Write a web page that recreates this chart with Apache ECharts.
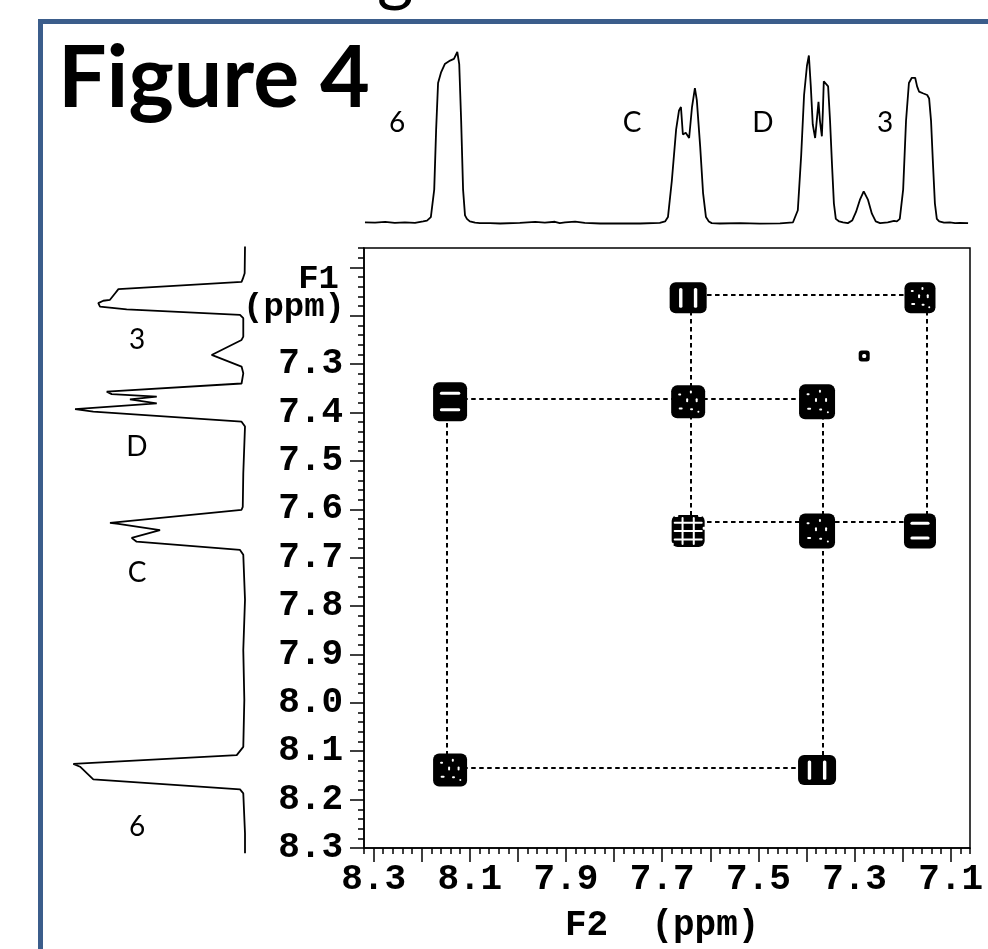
<!DOCTYPE html>
<html><head><meta charset="utf-8">
<script src="https://cdn.jsdelivr.net/npm/echarts@6/dist/echarts.min.js"></script>
<style>html,body{margin:0;padding:0;background:#fff}#c{width:988px;height:949px}</style>
</head><body><div id="c"></div>
<script>
// ---------------- data ----------------
const peakNames = ['6', 'C', 'D', '3'];
const shiftF2 = [8.141, 7.646, 7.378, 7.164];   // cross-peak columns (ppm)
const shiftF1 = [8.139, 7.645, 7.378, 7.163];   // cross-peak rows (ppm)
const impurityF2 = 7.280;
const impurityF1 = 7.283;
// cross peaks [F2 name, F1 name]
const crossPeaks = [['C','3'],['3','3'],['6','D'],['C','D'],['D','D'],['C','C'],['D','C'],['3','C'],['6','6'],['D','6']];
// dotted assignment lines (ppm)
const lineF2 = [8.147, 7.640, 7.366, 7.150];
const lineF1 = [8.135, 7.626, 7.372, 7.157];
// [orientation, fixed name, from name, to name]
const connectors = [['h','3','C','3'],['v','C','3','C'],['v','3','3','C'],['h','D','6','D'],['h','C','C','3'],['v','D','D','6'],['h','6','6','D'],['v','6','D','6']];

// 1D projection along F2 (top)
const topPpm = [8.318,8.297,8.276,8.256,8.235,8.214,8.197,8.189,8.181,8.174,8.170,8.166,8.160,8.152,8.141,8.133,8.129,8.126,8.122,8.118,8.114,8.110,8.106,8.100,8.089,8.079,8.058,8.037,7.996,7.964,7.944,7.923,7.913,7.902,7.881,7.861,7.829,7.788,7.746,7.705,7.694,7.688,7.680,7.671,7.665,7.661,7.657,7.651,7.644,7.638,7.632,7.628,7.621,7.615,7.609,7.603,7.597,7.580,7.538,7.497,7.455,7.428,7.424,7.418,7.411,7.405,7.399,7.395,7.391,7.387,7.382,7.378,7.375,7.372,7.368,7.366,7.364,7.360,7.355,7.351,7.347,7.343,7.339,7.332,7.324,7.314,7.305,7.297,7.289,7.281,7.272,7.264,7.256,7.247,7.231,7.218,7.212,7.206,7.199,7.193,7.187,7.181,7.174,7.170,7.166,7.158,7.149,7.145,7.141,7.137,7.133,7.129,7.124,7.120,7.114,7.102,7.091,7.081,7.064];
const topInt = [1.0,0.8,1.2,0.6,1.0,0.7,1.5,2,4,20,55,82,88,93,95,96,97,100,93,60,20,5,3,1.5,0.8,0.5,0.5,0.3,0.6,1.2,0.8,1.3,0.5,0.9,1.4,0.6,0.3,0.4,0.3,0.6,1.5,4,25,55,66,68,52,53,50,68,79,72,45,18,4,1.5,0.5,0.3,0.5,0.2,0.4,1.0,2,8,40,75,92,98,80,58,50,62,71,60,51,65,83,82,80,60,35,12,3,1.5,1.0,0.5,2,7,14,19,14,6,1.5,0.5,1.0,1.8,1.5,3,20,60,82,85,85,80,77,76,75,73,60,35,12,3,1.5,2.5,0.8,1.0,0.5,0.7,0.5];

// 1D projection along F1 (left)
const leftPpm = [7.057,7.112,7.124,7.130,7.145,7.154,7.167,7.169,7.174,7.181,7.187,7.198,7.205,7.243,7.250,7.281,7.305,7.319,7.340,7.357,7.362,7.367,7.373,7.381,7.393,7.398,7.419,7.429,7.526,7.595,7.601,7.628,7.630,7.643,7.659,7.667,7.684,7.694,7.787,7.891,7.994,8.091,8.108,8.126,8.132,8.158,8.179,8.187,8.270,8.311];
const leftInt = [0,0.2,1.3,2,73.6,75.6,78.5,82.4,85.3,84.3,68.8,2.9,1,1,2,19.4,2,1,2,80.4,77.5,51.3,66.9,51.3,98.8,88.2,2,0,1,1.3,2,78.5,73.6,49.4,65.9,63,2.9,1,0,1,0.4,1,4.8,99.8,95.9,88.2,2.9,1,0,0];

const xTickLabels = ['8.3','8.1','7.9','7.7','7.5','7.3','7.1'];
const yTickLabels = ['7.3','7.4','7.5','7.6','7.7','7.8','7.9','8.0','8.1','8.2','8.3'];

// ---------------- styles ----------------
const peakStyle = {
  'C/3': {w:37,h:31,p:'v2'}, '3/3': {w:31,h:31,p:'dots'}, '6/D': {w:34,h:39,p:'h2'},
  'C/D': {w:34,h:33,p:'dots'}, 'D/D': {w:36,h:35,p:'dots'}, 'C/C': {w:33,h:32,p:'grid'},
  'D/C': {w:36,h:35,p:'dots'}, '3/C': {w:32,h:35,p:'h2'}, '6/6': {w:34,h:33,p:'dots'},
  'D/6': {w:38,h:30,p:'v2'}, 'imp': {w:11,h:11,p:'ring',r:3}
};
const idx = n => peakNames.indexOf(n);
const peakKeys = crossPeaks.map(p => p[0] + '/' + p[1]).concat(['imp']);
const peakData = crossPeaks.map(p => [shiftF2[idx(p[0])], shiftF1[idx(p[1])]]).concat([[impurityF2, impurityF1]]);
const lineData = connectors.map(c => c[0] === 'h'
  ? {coords: [[lineF2[idx(c[2])], lineF1[idx(c[1])]], [lineF2[idx(c[3])], lineF1[idx(c[1])]]]}
  : {coords: [[lineF2[idx(c[1])], lineF1[idx(c[2])]], [lineF2[idx(c[1])], lineF1[idx(c[3])]]]});

function renderPeak(params, api) {
  const st = peakStyle[peakKeys[params.dataIndex]];
  const c = api.coord([api.value(0), api.value(1)]);
  const w = st.w, h = st.h;
  const ch = [{type:'rect', shape:{x:c[0]-w/2, y:c[1]-h/2, width:w, height:h, r:st.r||6}, style:{fill:'#000'}}];
  const white = (x, y, ww, hh, r) => ch.push({type:'rect', shape:{x:x, y:y, width:ww, height:hh, r:r||1}, style:{fill:'#fff'}});
  if (st.p === 'v2') {
    white(c[0]-w*0.2-1.7, c[1]-h*0.32, 3.4, h*0.64, 1.5);
    white(c[0]+w*0.2-1.7, c[1]-h*0.32, 3.4, h*0.64, 1.5);
  } else if (st.p === 'h2') {
    white(c[0]-w*0.3, c[1]-h*0.22-1.5, w*0.6, 3, 1.5);
    white(c[0]-w*0.3, c[1]+h*0.2-1.5, w*0.6, 3, 1.5);
  } else if (st.p === 'dots') {
    [[-0.25,-0.22,3,2],[0.08,-0.3,2,3],[0.25,-0.05,2,4],[-0.22,0.2,4,2],[0.1,0.22,3,2],[-0.03,-0.05,2,4],[0.3,0.3,2,2]]
      .forEach(d => white(c[0]+d[0]*w-d[2]/2, c[1]+d[1]*h-d[3]/2, d[2], d[3], 1));
  } else if (st.p === 'grid') {
    [-0.17, 0.17].forEach(f => white(c[0]+f*w-1, c[1]-h/2+2, 2, h-4, 1));
    [-0.26, 0, 0.26].forEach(f => white(c[0]-w/2+2, c[1]+f*h-1, w-4, 2, 1));
    [[-0.36,-0.5],[0.36,-0.5],[-0.5,0.4],[0.5,-0.1]].forEach(d => white(c[0]+d[0]*w-2, c[1]+d[1]*h-1, 4, 3, 1));
  } else if (st.p === 'ring') {
    white(c[0]-2, c[1]-2, 4, 4, 1.5);
  }
  return {type:'group', children: ch};
}

// ---------------- chart ----------------
const BLACK = '#000';
const monoBold = {fontFamily:'Liberation Mono', fontWeight:'bold', fontSize:36, color:BLACK};
const G = {left:364, top:248, width:606, height:600};
const sx = G.width / (8.32 - 7.06), sy = G.height / (8.30 - 7.06);
const G1 = {left: G.left + (8.32-8.3)*sx, top: G.top + (7.1-7.06)*sy, width: 1.2*sx, height: 1.2*sy};

const chart = echarts.init(document.getElementById('c'), null, {renderer:'canvas'});
chart.setOption({
  animation: false,
  backgroundColor: '#fff',
  grid: [
    {left:G.left, top:G.top, width:G.width, height:G.height, show:true, borderColor:BLACK, borderWidth:1.5, backgroundColor:'transparent', outerBoundsMode:'none'},
    {left:G1.left, top:G1.top, width:G1.width, height:G1.height, show:false, outerBoundsMode:'none'},
    {left:G.left, top:52, width:G.width, height:172, show:false, outerBoundsMode:'none'},
    {left:73, top:G.top, width:172, height:G.height, show:false, outerBoundsMode:'none'}
  ],
  xAxis: [
    {gridIndex:0, type:'value', inverse:true, min:7.06, max:8.32, interval:0.02,
     axisLine:{show:true, onZero:false, lineStyle:{color:BLACK, width:1.5}},
     axisTick:{show:true, length:6, lineStyle:{color:BLACK, width:1.5}},
     axisLabel:{show:false}, splitLine:{show:false}},
    {gridIndex:1, type:'value', inverse:true, min:7.1, max:8.3, interval:0.1,
     axisLine:{show:false, onZero:false},
     axisTick:{show:true, length:14, lineStyle:{color:BLACK, width:1.5}},
     axisLabel:Object.assign({margin:14, formatter: v => { const s = v.toFixed(1); return xTickLabels.includes(s) ? s : ''; }}, monoBold),
     splitLine:{show:false},
     name:'F2  (ppm)', nameLocation:'middle', nameGap:60, nameTextStyle:monoBold},
    {gridIndex:2, type:'value', inverse:true, min:7.06, max:8.32, show:false},
    {gridIndex:3, type:'value', inverse:true, min:0, max:100, show:false}
  ],
  yAxis: [
    {gridIndex:0, type:'value', inverse:true, min:7.06, max:8.30, interval:0.02,
     axisLine:{show:true, onZero:false, lineStyle:{color:BLACK, width:1.5}},
     axisTick:{show:true, length:6, lineStyle:{color:BLACK, width:1.5}},
     axisLabel:{show:false}, splitLine:{show:false}},
    {gridIndex:1, type:'value', inverse:true, min:7.1, max:8.3, interval:0.1, offset: G1.left - G.left,
     axisLine:{show:false, onZero:false},
     axisTick:{show:true, length:14, lineStyle:{color:BLACK, width:1.5}},
     axisLabel:Object.assign({margin:21, formatter: v => { const s = v.toFixed(1); return yTickLabels.includes(s) ? s : ''; }}, monoBold),
     splitLine:{show:false}},
    {gridIndex:2, type:'value', min:0, max:100, show:false},
    {gridIndex:3, type:'value', inverse:true, min:7.06, max:8.30, show:false}
  ],
  series: [
    {type:'lines', coordinateSystem:'cartesian2d', xAxisIndex:0, yAxisIndex:0, z:2, silent:true,
     lineStyle:{color:BLACK, width:2, type:[4.5,3.5], opacity:1, curveness:0}, data: lineData},
    {type:'custom', xAxisIndex:0, yAxisIndex:0, z:3, silent:true, renderItem: renderPeak, data: peakData},
    {type:'line', xAxisIndex:2, yAxisIndex:2, showSymbol:false, clip:false, silent:true,
     lineStyle:{color:BLACK, width:1.8}, data: topPpm.map((p, i) => [p, topInt[i]])},
    {type:'line', xAxisIndex:3, yAxisIndex:3, showSymbol:false, clip:false, silent:true,
     lineStyle:{color:BLACK, width:1.8}, data: leftInt.map((v, i) => [v, leftPpm[i]])}
  ],
  graphic: [
    {type:'rect', z:-10, shape:{x:40.5, y:21.5, width:1100, height:1100}, style:{fill:'none', stroke:'#3b5d8b', lineWidth:5}},
    {type:'text', style:{text:'Rational design resonances of the spectrum', x:-15, y:-25, fontSize:70, fontFamily:'Lato', fill:BLACK, align:'left', verticalAlign:'middle'}},
    {type:'text', style:{text:'Figure 4', x:58, y:79, fontSize:86, fontWeight:'bold', fontFamily:'Lato', fill:BLACK, align:'left', verticalAlign:'middle'}},
    {type:'text', style:{text:'6', x:397, y:123, fontSize:28, fontFamily:'Lato', fill:BLACK, align:'center', verticalAlign:'middle'}},
    {type:'text', style:{text:'C', x:632, y:123, fontSize:28, fontFamily:'Lato', fill:BLACK, align:'center', verticalAlign:'middle'}},
    {type:'text', style:{text:'D', x:763, y:123, fontSize:28, fontFamily:'Lato', fill:BLACK, align:'center', verticalAlign:'middle'}},
    {type:'text', style:{text:'3', x:885, y:123, fontSize:28, fontFamily:'Lato', fill:BLACK, align:'center', verticalAlign:'middle'}},
    {type:'text', style:{text:'3', x:137, y:340, fontSize:28, fontFamily:'Lato', fill:BLACK, align:'center', verticalAlign:'middle'}},
    {type:'text', style:{text:'D', x:137, y:447, fontSize:28, fontFamily:'Lato', fill:BLACK, align:'center', verticalAlign:'middle'}},
    {type:'text', style:{text:'C', x:137, y:573, fontSize:28, fontFamily:'Lato', fill:BLACK, align:'center', verticalAlign:'middle'}},
    {type:'text', style:{text:'6', x:137, y:827, fontSize:28, fontFamily:'Lato', fill:BLACK, align:'center', verticalAlign:'middle'}},
    {type:'text', style:{text:'F1', x:339, y:279, fontSize:34, fontWeight:'bold', fontFamily:'Liberation Mono', fill:BLACK, align:'right', verticalAlign:'middle'}},
    {type:'text', style:{text:'(ppm)', x:345, y:307, fontSize:34, fontWeight:'bold', fontFamily:'Liberation Mono', fill:BLACK, align:'right', verticalAlign:'middle'}}
  ]
});
</script></body></html>
